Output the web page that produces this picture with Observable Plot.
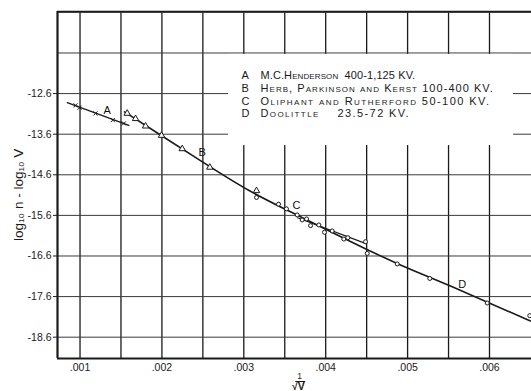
<!DOCTYPE html>
<html>
<head>
<meta charset="utf-8">
<script src="https://cdn.jsdelivr.net/npm/d3@7"></script>
<script src="https://cdn.jsdelivr.net/npm/@observablehq/plot@0.6"></script>
<style>
  html, body { margin: 0; padding: 0; background: #fff; }
  svg { display: block; }
</style>
</head>
<body>
<div id="chart"></div>
<script>
// ---- data ----
const xTicks = [0.001, 0.002, 0.003, 0.004, 0.005, 0.006];
const xGrid = [0.001, 0.0015, 0.002, 0.0025, 0.003, 0.0035, 0.004, 0.0045, 0.005, 0.0055, 0.006];
const yTicks = [-12.6, -13.6, -14.6, -15.6, -16.6, -17.6, -18.6];
const yGrid = [-10.6, -11.6, -12.6, -13.6, -14.6, -15.6, -16.6, -17.6, -18.6];

// A: M.C. Henderson (crosses) and its fitted segment
const aX = [0.000945, 0.000994, 0.001189, 0.0014, 0.001535];
const aY = [-12.89, -12.947, -13.088, -13.253, -13.335];
const aLineX = [0.000844, 0.001596];
const aLineY = [-12.823, -13.385];

// B: Herb, Parkinson and Kerst (triangles)
const bX = [0.001576, 0.001678, 0.0018, 0.001995, 0.002248, 0.002585, 0.003155];
const bY = [-13.088, -13.219, -13.402, -13.632, -13.961, -14.417, -14.994];

// C: Oliphant and Rutherford (circles)
const cX = [0.003155, 0.003424, 0.003521, 0.003652, 0.003713, 0.003766, 0.003815, 0.003916, 0.003985, 0.004079, 0.004221, 0.00427, 0.004486];
const cY = [-15.159, -15.323, -15.439, -15.588, -15.711, -15.687, -15.852, -15.835, -16.016, -15.984, -16.182, -16.149, -16.248];
const cLineX = [0.003656, 0.0045];
const cLineY = [-15.659, -16.302];

// D: Doolittle (circles)
const dX = [0.004507, 0.004873, 0.005271, 0.005972, 0.006492];
const dY = [-16.536, -16.796, -17.154, -17.758, -18.07];

// main fitted curve through B, C, D
const curveX = [0.001543, 0.001983, 0.002471, 0.003081, 0.003692, 0.004302, 0.004913, 0.005524, 0.0065];
const curveY = [-13.05, -13.62, -14.251, -15.006, -15.632, -16.243, -16.82, -17.34, -18.201];

// series letters placed on the chart
const tagText = ["A", "B", "C", "D"];
const tagX = [0.001332, 0.002492, 0.003643, 0.005667];
const tagY = [-13.006, -14.06, -15.357, -17.303];

// legend
const legendLetters = ["A", "B", "C", "D"];
const legendNames = ["M.C.Henderson", "Herb, Parkinson and Kerst", "Oliphant and Rutherford", "Doolittle"];
const legendRanges = ["400-1,125 KV.", "100-400 KV.", "50-100 KV.", "23.5-72 KV."];
const legendSep = ["\u00a0\u00a0", "\u00a0", "\u00a0", "\u00a0\u00a0\u00a0\u00a0"];

const yLabel = "log\u2081\u2080 n - log\u2081\u2080 V";

// ---- build ----
const xDomain = [0.000725, 0.006513];
const yDomain = [-19.125, -10.578];
const zip = (xs, ys) => xs.map((x, i) => ({x, y: ys[i]}));
const ink = "#1a1a1a";
const font = "'Liberation Sans', Arimo, Arial, sans-serif";

const legendLines = legendNames.map((n, i) => n + legendSep[i] + legendRanges[i]);

const plot = Plot.plot({
  width: 531,
  height: 391,
  marginLeft: 57,
  marginRight: 0,
  marginTop: 11,
  marginBottom: 33,
  style: {fontFamily: font, background: "#fff", color: ink},
  x: {domain: xDomain},
  y: {domain: yDomain},
  marks: [
    Plot.ruleX(xGrid, {stroke: ink, strokeWidth: 1.3}),
    Plot.ruleY(yGrid, {stroke: "#3a3a3a", strokeWidth: 1}),
    // legend panel hides the grid behind it
    Plot.rect([0], {x1: () => 0.002813, x2: () => 0.006293, y1: () => -11.635, y2: () => -13.88, fill: "#fff"}),
    // frame: left, bottom, top
    Plot.ruleX([xDomain[0]], {stroke: ink, strokeWidth: 2.2}),
    Plot.ruleY([yDomain[0]], {stroke: ink, strokeWidth: 2.2}),
    Plot.ruleY([yDomain[1]], {stroke: ink, strokeWidth: 1.5}),
    Plot.axisY(yTicks, {tickSize: 4, tickPadding: 2, fontSize: 10.5, tickFormat: d => d.toFixed(1), stroke: ink, label: null}),
    Plot.axisX(xTicks, {tickSize: 0, tickPadding: 5, fontSize: 10.5, tickFormat: d => d.toFixed(3).replace(/^0/, ""), label: null}),
    // lines
    Plot.line(zip(aLineX, aLineY), {x: "x", y: "y", stroke: ink, strokeWidth: 1.3}),
    Plot.line(zip(curveX, curveY), {x: "x", y: "y", stroke: ink, strokeWidth: 1.6, curve: "natural"}),
    Plot.line(zip(cLineX, cLineY), {x: "x", y: "y", stroke: ink, strokeWidth: 1.1}),
    // points
    Plot.dot(zip(aX, aY), {x: "x", y: "y", symbol: "times", r: 2, stroke: ink, strokeWidth: 1}),
    Plot.dot(zip(bX, bY), {x: "x", y: "y", symbol: "triangle", r: 2.4, stroke: ink, fill: "#fff", strokeWidth: 1}),
    Plot.dot(zip(cX, cY), {x: "x", y: "y", symbol: "circle", r: 2, stroke: ink, fill: "#fff", strokeWidth: 1}),
    Plot.dot(zip(dX, dY), {x: "x", y: "y", symbol: "circle", r: 2, stroke: ink, fill: "#fff", strokeWidth: 1}),
    // series tags
    Plot.text(tagText.map((t, i) => ({t, x: tagX[i], y: tagY[i]})), {x: "x", y: "y", text: "t", fontSize: 11, fill: "#111"}),
    // legend
    Plot.text([legendLetters.join("\n")], {frameAnchor: "top-left", dx: 184, dy: 59, text: d => d, textAnchor: "start", lineAnchor: "top", lineHeight: 1.15, fontSize: 11, fill: ink}),
    Plot.text([legendLines.join("\n")], {frameAnchor: "top-left", dx: 203, dy: 59, text: d => d, textAnchor: "start", lineAnchor: "top", lineHeight: 1.15, fontSize: 11, fontVariant: "small-caps", fill: ink}),
    // axis titles
    Plot.text([yLabel], {frameAnchor: "left", dx: -39, dy: 56, rotate: -90, text: d => d, fontSize: 13.5, fill: ink}),
    Plot.text(["1"], {frameAnchor: "bottom", dx: 5, dy: 18, lineAnchor: "middle", text: d => d, fontSize: 8.5, fill: ink}),
    Plot.ruleY([yDomain[0]], {x1: () => 0.003634, x2: () => 0.003756, dy: 23, stroke: ink, strokeWidth: 1}),
    Plot.text(["\u221aV"], {frameAnchor: "bottom", dx: 4, dy: 28.5, lineAnchor: "middle", text: d => d, fontSize: 10.5, fontWeight: "bold", fill: ink})
  ]
});
// hand-lettered legend: spacing differs from line to line
const spacing = ["0.1px", "1.05px", "1.45px", "1.4px"];
d3.select(plot).selectAll("text")
  .filter(function() { return this.textContent.includes("Henderson"); })
  .selectAll("tspan")
  .style("letter-spacing", (d, i) => spacing[i]);
document.getElementById("chart").appendChild(plot);
</script>
</body>
</html>
